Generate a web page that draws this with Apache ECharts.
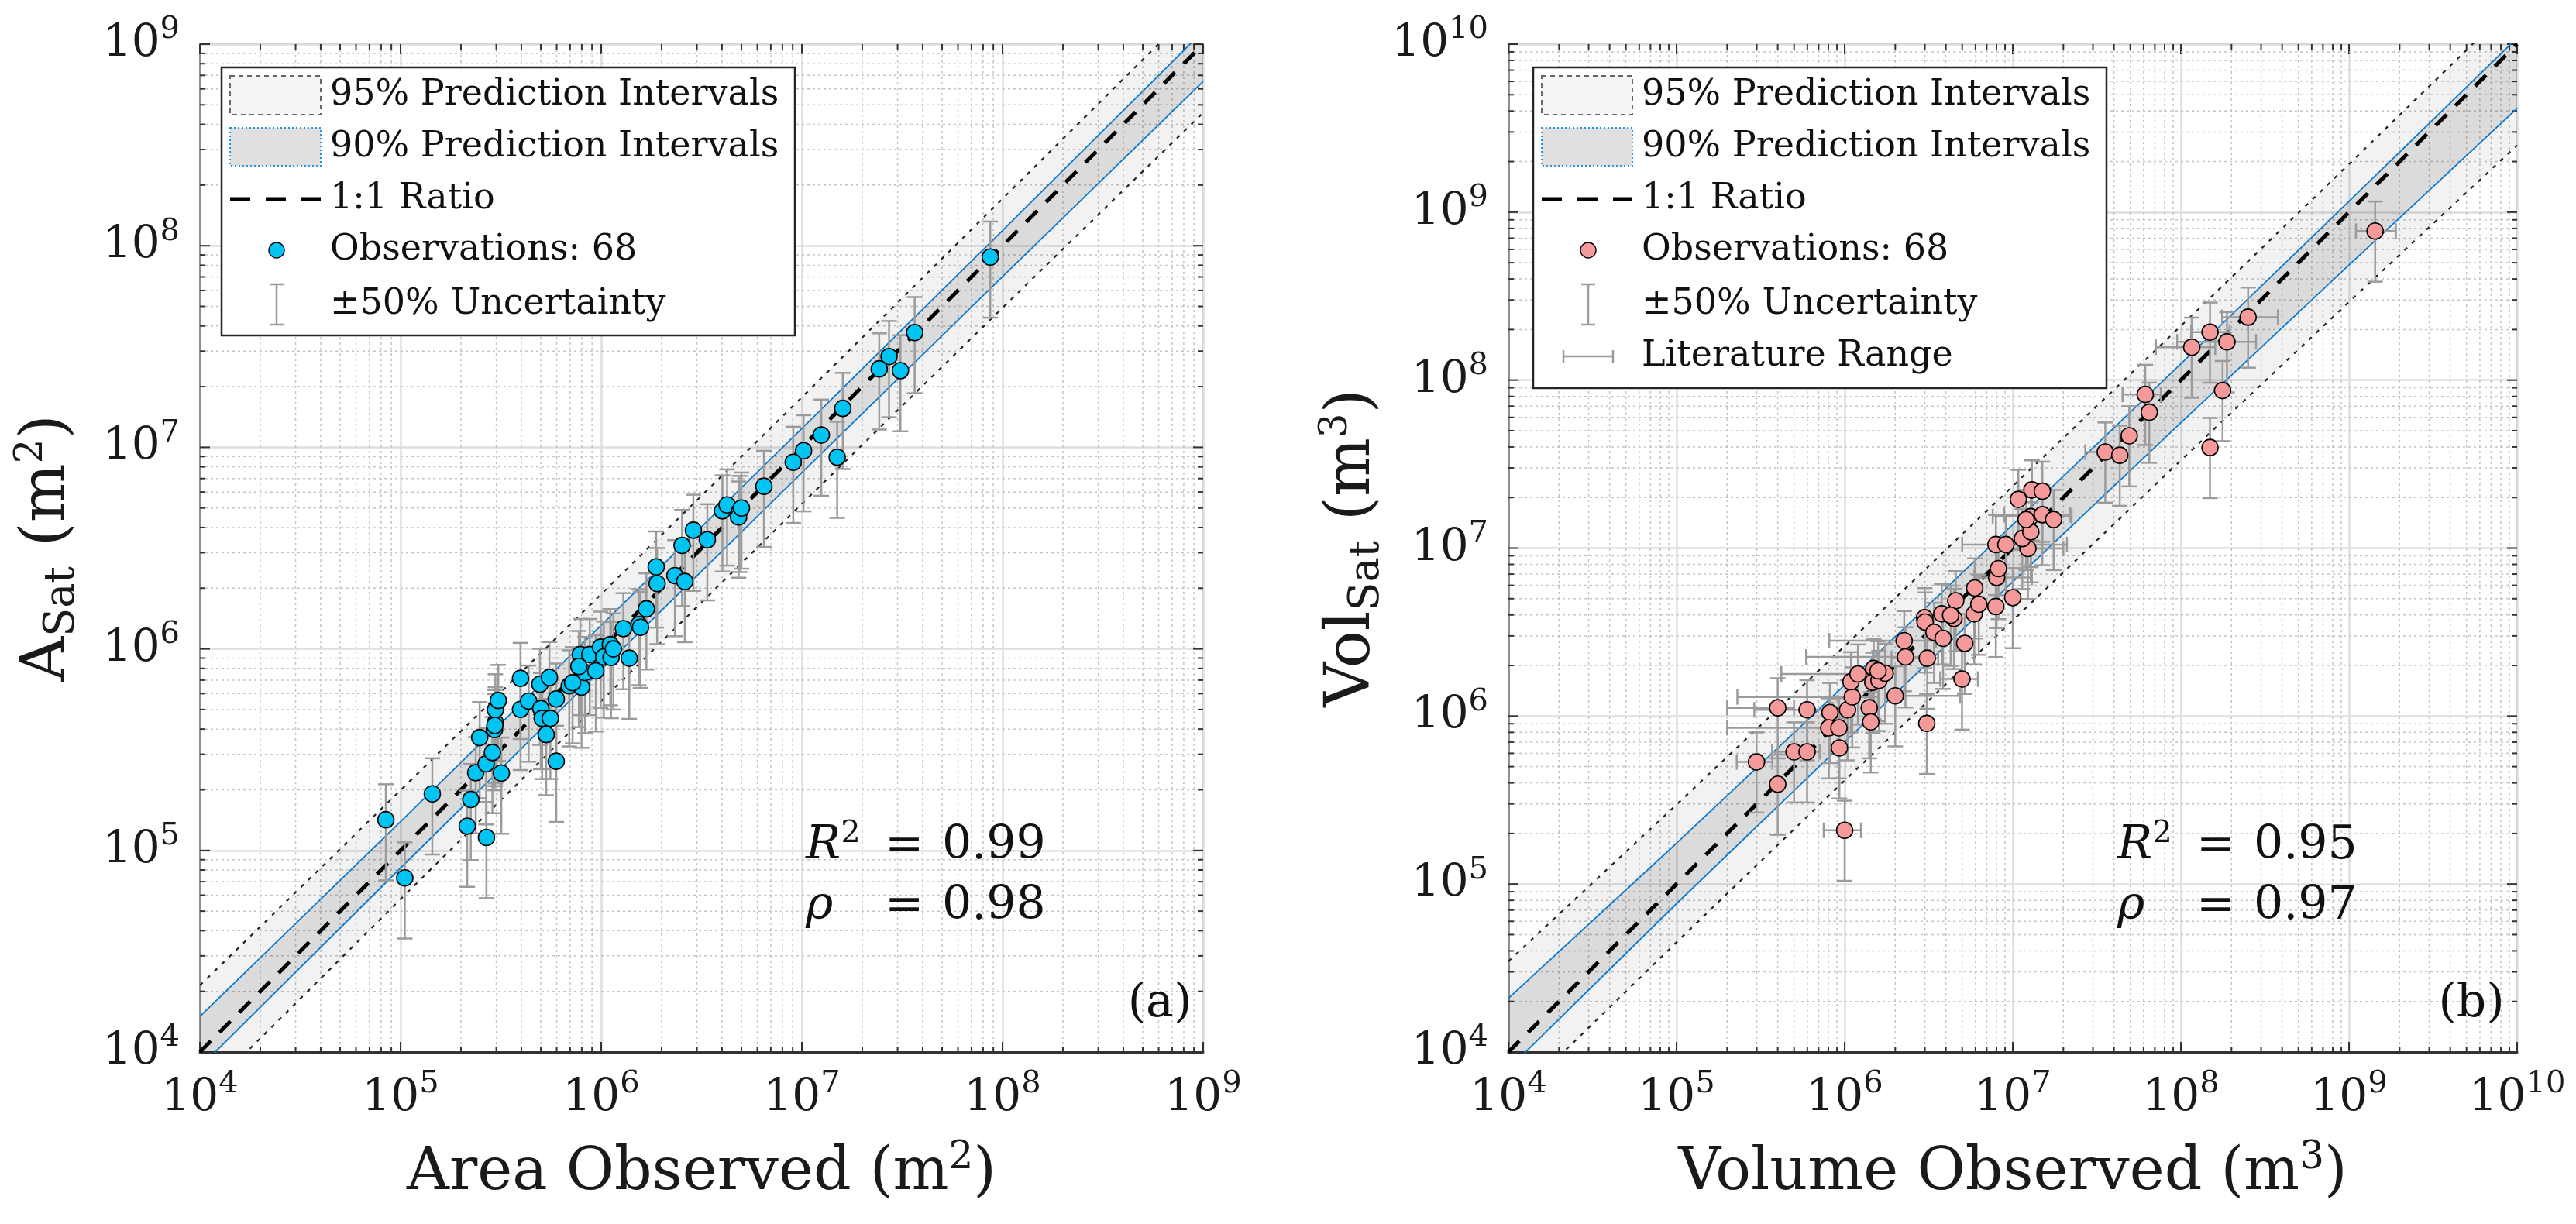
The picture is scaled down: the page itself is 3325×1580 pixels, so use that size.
<!DOCTYPE html>
<html lang="en">
<head>
<meta charset="UTF-8" />
<title>Satellite vs observed</title>
<script src="https://cdn.jsdelivr.net/npm/echarts@6/dist/echarts.min.js"></script>
<style>
  html, body { margin: 0; padding: 0; background: #fff; }
  #main { width: 3325px; height: 1580px; }
</style>
</head>
<body>
<div id="main"></div>
<script type="text/javascript">
// (a) lake area, observed vs satellite (m^2)
var areaObs = [
  8.45e4, 1.05e5, 1.44e5, 2.15e5, 2.24e5, 2.68e5, 2.37e5, 2.67e5, 3.18e5, 2.87e5,
  2.48e5, 2.94e5, 2.97e5, 2.97e5, 3.07e5, 3.96e5, 3.96e5, 4.35e5, 4.95e5, 5.52e5,
  5.00e5, 5.08e5, 5.58e5, 5.32e5, 5.97e5, 5.97e5, 6.93e5, 7.98e5, 7.87e5, 8.30e5,
  9.40e5, 8.77e5, 9.93e5, 1.11e6, 1.03e6, 1.12e6, 1.38e6, 1.29e6, 1.54e6, 1.57e6,
  1.68e6, 1.88e6, 1.90e6, 2.33e6, 2.61e6, 2.53e6, 2.88e6, 3.38e6, 4.02e6, 4.24e6,
  8.69e7, 3.65e7, 2.72e7, 2.43e7, 3.10e7, 1.60e7, 1.25e7, 1.50e7, 1.02e7, 9.06e6,
  6.47e6, 4.89e6, 4.84e6, 7.74e5, 2.95e5, 1.15e6, 5.00e6, 7.20e5
];
var areaSat = [
  1.42e5, 7.31e4, 1.91e5, 1.32e5, 1.79e5, 1.16e5, 2.43e5, 2.69e5, 2.42e5, 3.06e5,
  3.63e5, 3.98e5, 4.30e5, 4.99e5, 5.55e5, 7.14e5, 5.01e5, 5.51e5, 6.68e5, 7.21e5,
  5.06e5, 4.52e5, 4.52e5, 3.76e5, 2.77e5, 5.64e5, 6.56e5, 6.46e5, 9.38e5, 7.64e5,
  7.78e5, 9.38e5, 1.02e6, 1.05e6, 9.12e5, 9.06e5, 8.99e5, 1.26e6, 1.32e6, 1.28e6,
  1.58e6, 2.55e6, 2.11e6, 2.31e6, 2.16e6, 3.26e6, 3.88e6, 3.48e6, 4.84e6, 5.18e6,
  8.79e7, 3.71e7, 2.82e7, 2.45e7, 2.40e7, 1.56e7, 1.15e7, 8.93e6, 9.62e6, 8.43e6,
  6.41e6, 4.81e6, 4.51e6, 8.18e5, 4.17e5, 1.00e6, 5.00e6, 6.80e5
];

// (b) lake volume, observed vs satellite (m^3)
var volObs = [
  2.99e5, 4.00e5, 4.00e5, 5.00e5, 5.98e5, 5.98e5, 9.31e5, 1.00e6, 8.18e5, 8.05e5,
  9.25e5, 1.04e6, 1.11e6, 1.09e6, 1.20e6, 1.40e6, 1.43e6, 1.49e6, 1.47e6, 1.60e6,
  1.74e6, 2.00e6, 2.26e6, 2.30e6, 3.08e6, 3.10e6, 2.99e6, 3.01e6, 3.40e6, 3.85e6,
  3.78e6, 4.47e6, 4.58e6, 5.18e6, 4.99e6, 5.94e6, 5.90e6, 6.28e6, 7.93e6, 1.00e7,
  8.02e6, 8.22e6, 7.94e6, 1.23e7, 1.14e7, 1.28e7, 1.28e7, 1.50e7, 1.75e7, 1.08e7,
  1.30e7, 1.50e7, 1.43e9, 2.51e8, 1.49e8, 1.88e8, 1.16e8, 1.77e8, 1.49e8, 6.14e7,
  6.49e7, 4.93e7, 3.55e7, 4.33e7, 4.27e6, 1.58e6, 9.10e6, 1.20e7
];
var volSat = [
  5.33e5, 3.93e5, 1.12e6, 6.12e5, 6.12e5, 1.09e6, 6.46e5, 2.09e5, 1.05e6, 8.51e5,
  8.51e5, 1.09e6, 1.30e6, 1.60e6, 1.78e6, 1.12e6, 9.23e5, 1.92e6, 1.59e6, 1.63e6,
  1.80e6, 1.32e6, 2.81e6, 2.25e6, 9.04e5, 2.21e6, 3.85e6, 3.63e6, 3.15e6, 2.90e6,
  4.06e6, 3.81e6, 4.86e6, 2.71e6, 1.66e6, 5.79e6, 4.06e6, 4.63e6, 4.49e6, 5.07e6,
  6.68e6, 7.55e6, 1.05e7, 9.95e6, 1.14e7, 1.25e7, 1.54e7, 1.58e7, 1.48e7, 1.95e7,
  2.22e7, 2.18e7, 7.71e8, 2.37e8, 1.93e8, 1.69e8, 1.57e8, 8.67e7, 3.97e7, 8.22e7,
  6.44e7, 4.66e7, 3.73e7, 3.57e7, 3.98e6, 1.86e6, 1.05e7, 1.48e7
];
// literature range of the observed volume (null = none shown)
var volLitLo = [
  2.28e5, null, 2.00e5, 3.70e5, null, 2.90e5, null, 7.50e5, null, 2.00e5,
  null, null, 2.30e5, null, 4.20e5, null, null, null, null, null,
  null, 1.98e6, 8.10e5, 5.90e5, null, 1.90e6, null, null, null, null,
  null, null, null, null, 3.70e6, null, null, null, null, null,
  5.90e6, null, 5.00e6, 7.90e6, null, null, 7.60e6, 8.90e6, null, null,
  null, null, 1.10e9, 1.76e8, 1.15e8, 9.50e7, 7.10e7, null, null, 4.50e7,
  null, null, 2.70e7, null, null, null, null, null
];
var volLitHi = [
  3.72e5, null, 5.00e5, 7.10e5, null, 8.50e5, null, 1.25e6, null, 1.10e6,
  null, null, 1.60e6, null, 2.00e6, null, null, null, null, null,
  null, 4.85e6, 3.50e6, 3.20e6, null, 3.60e6, null, null, null, null,
  null, null, null, null, 6.20e6, null, null, null, null, null,
  1.30e7, null, 2.10e7, 2.00e7, null, null, 2.24e7, 2.20e7, null, null,
  null, null, 1.90e9, 3.78e8, 1.95e8, 2.80e8, 1.60e8, null, null, 7.60e7,
  null, null, 4.30e7, null, null, null, null, null
];

// prediction interval edges read at each decade
var bandXA = [1e4, 1e5, 1e6, 1e7, 1e8, 1e9];
var areaUp95 = [2.14e4, 1.99e5, 1.87e6, 1.77e7, 1.71e8, 1.66e9];
var areaLo95 = [5.89e3, 5.73e4, 5.51e5, 5.24e6, 4.92e7, 4.57e8];
var areaUp90 = [1.50e4, 1.39e5, 1.31e6, 1.24e7, 1.19e8, 1.16e9];
var areaLo90 = [8.41e3, 8.18e4, 7.87e5, 7.48e6, 7.03e7, 6.53e8];

var bandXB = [1e4, 1e5, 1e6, 1e7, 1e8, 1e9, 1e10];
var volUp95 = [3.47e4, 2.97e5, 2.61e6, 2.34e7, 2.10e8, 1.93e9, 1.81e10];
var volLo95 = [4.79e3, 4.50e4, 4.13e5, 3.71e6, 3.33e7, 2.92e8, 2.50e9];
var volUp90 = [2.09e4, 1.75e5, 1.53e6, 1.38e7, 1.25e8, 1.16e9, 1.09e10];
var volLo90 = [7.94e3, 7.64e4, 7.01e5, 6.30e6, 5.58e7, 4.84e8, 4.15e9];

var decadesA = [4, 5, 6, 7, 8, 9];
var decadesB = [4, 5, 6, 7, 8, 9, 10];
var minorSteps = [2, 3, 4, 5, 6, 7, 8, 9];

var statsA = ['0.99', '0.98'];
var statsB = ['0.95', '0.97'];

var FONT = 'DejaVu Serif';
var CYAN = '#00c4f2';
var PINK = '#f59a9a';
var GREY = '#9b9b9b';

var chart = echarts.init(document.getElementById('main'));

function tickData(decades, horizontal) {
  var out = [];
  var lo = Math.pow(10, decades[0]);
  decades.forEach(function (d, i) {
    var v = Math.pow(10, d);
    out.push(horizontal ? [v, lo, 1] : [lo, v, 1]);
    if (i < decades.length - 1) {
      minorSteps.forEach(function (m) {
        out.push(horizontal ? [m * v, lo, 0] : [lo, m * v, 0]);
      });
    }
  });
  return out;
}

var tickStyle = { stroke: '#333', lineWidth: 2 };
var minorGrid = { stroke: '#c4c4c4', lineWidth: 1.5, lineDash: [3, 4] };

function xTicks(params, api) {
  var cs = params.coordSys;
  var px = api.coord([api.value(0), api.value(1)])[0];
  var len = api.value(2) ? 13 : 7;
  var top = cs.y, bot = cs.y + cs.height;
  var kids = [
    { type: 'line', shape: { x1: px, y1: bot, x2: px, y2: bot - len }, style: tickStyle },
    { type: 'line', shape: { x1: px, y1: top, x2: px, y2: top + len }, style: tickStyle }
  ];
  if (!api.value(2)) {
    kids.unshift({ type: 'line', shape: { x1: px, y1: top, x2: px, y2: bot }, style: minorGrid });
  }
  return { type: 'group', children: kids };
}

function yTicks(params, api) {
  var cs = params.coordSys;
  var py = api.coord([api.value(0), api.value(1)])[1];
  var len = api.value(2) ? 13 : 7;
  var l = cs.x, r = cs.x + cs.width;
  var kids = [
    { type: 'line', shape: { x1: l, y1: py, x2: l + len, y2: py }, style: tickStyle },
    { type: 'line', shape: { x1: r, y1: py, x2: r - len, y2: py }, style: tickStyle }
  ];
  if (!api.value(2)) {
    kids.unshift({ type: 'line', shape: { x1: l, y1: py, x2: r, y2: py }, style: minorGrid });
  }
  return { type: 'group', children: kids };
}

function bandRender(xs, lo, hi, fill) {
  return function (params, api) {
    var pts = [];
    for (var i = 0; i < xs.length; i++) pts.push(api.coord([xs[i], hi[i]]));
    for (var j = xs.length - 1; j >= 0; j--) pts.push(api.coord([xs[j], lo[j]]));
    return { type: 'polygon', shape: { points: pts }, style: { fill: fill } };
  };
}

var errStyle = { stroke: GREY, lineWidth: 2.5 };

function vErr(params, api) {
  var x = api.value(0);
  var a = api.coord([x, api.value(1)]);
  var b = api.coord([x, api.value(2)]);
  var c = 10;
  return {
    type: 'group',
    children: [
      { type: 'line', shape: { x1: a[0], y1: a[1], x2: b[0], y2: b[1] }, style: errStyle },
      { type: 'line', shape: { x1: a[0] - c, y1: a[1], x2: a[0] + c, y2: a[1] }, style: errStyle },
      { type: 'line', shape: { x1: b[0] - c, y1: b[1], x2: b[0] + c, y2: b[1] }, style: errStyle }
    ]
  };
}

function hErr(params, api) {
  var y = api.value(1);
  var a = api.coord([api.value(2), y]);
  var b = api.coord([api.value(3), y]);
  var c = 10;
  return {
    type: 'group',
    children: [
      { type: 'line', shape: { x1: a[0], y1: a[1], x2: b[0], y2: b[1] }, style: errStyle },
      { type: 'line', shape: { x1: a[0], y1: a[1] - c, x2: a[0], y2: a[1] + c }, style: errStyle },
      { type: 'line', shape: { x1: b[0], y1: b[1] - c, x2: b[0], y2: b[1] + c }, style: errStyle }
    ]
  };
}

function pairs(xs, ys) {
  return xs.map(function (x, i) { return [x, ys[i]]; });
}

function vErrData(xs, ys) {
  return xs.map(function (x, i) { return [x, ys[i] * 0.5, ys[i] * 1.5]; });
}

function hErrData(xs, ys, lo, hi) {
  var out = [];
  xs.forEach(function (x, i) {
    if (lo[i] != null) out.push([x, ys[i], lo[i], hi[i]]);
  });
  return out;
}

function powLabel(v) {
  var e = Math.round(Math.log10(v));
  return '{b|10}{e|' + e + '}';
}

var labelRich = {
  b: { fontSize: 58, fontFamily: FONT, color: '#1a1a1a', lineHeight: 76 },
  e: { fontSize: 40, fontFamily: FONT, color: '#1a1a1a', lineHeight: 40, verticalAlign: 'top' }
};

function xAxisOpt(idx, maxExp, name) {
  return {
    gridIndex: idx,
    type: 'log',
    logBase: 10,
    min: 1e4,
    max: Math.pow(10, maxExp),
    interval: 1,
    axisLine: { show: true, onZero: false, lineStyle: { color: '#333', width: 3 } },
    axisTick: { show: false },
    minorTick: { show: false },
    splitLine: { show: true, lineStyle: { color: '#dedede', width: 2.5 } },
    axisLabel: { formatter: powLabel, margin: 22, rich: labelRich },
    name: name,
    nameLocation: 'middle',
    nameGap: 112,
    nameTextStyle: {
      fontSize: 76, fontFamily: FONT, color: '#1a1a1a', lineHeight: 90,
      rich: { s: { fontSize: 50, fontFamily: FONT, color: '#1a1a1a', lineHeight: 44, verticalAlign: 'top' } }
    }
  };
}

function yAxisOpt(idx, maxExp, name) {
  return {
    gridIndex: idx,
    type: 'log',
    logBase: 10,
    min: 1e4,
    max: Math.pow(10, maxExp),
    interval: 1,
    axisLine: { show: true, onZero: false, lineStyle: { color: '#8f8f8f', width: 3 } },
    axisTick: { show: false },
    minorTick: { show: false },
    splitLine: { show: true, lineStyle: { color: '#dedede', width: 2.5 } },
    axisLabel: { formatter: powLabel, margin: 26, rich: labelRich },
    name: name,
    nameLocation: 'middle',
    nameRotate: 90,
    nameGap: 150,
    nameTextStyle: {
      fontSize: 80, fontFamily: FONT, color: '#1a1a1a', lineHeight: 92,
      rich: {
        sub: { fontSize: 54, fontFamily: FONT, color: '#1a1a1a', lineHeight: 50, verticalAlign: 'bottom' },
        s: { fontSize: 50, fontFamily: FONT, color: '#1a1a1a', lineHeight: 44, verticalAlign: 'top' }
      }
    }
  };
}

function panelSeries(idx, decades, xs, ys, bx, up95, lo95, up90, lo90, color, lo, hi) {
  var list = [
    { type: 'custom', xAxisIndex: idx, yAxisIndex: idx, z: 1, silent: true,
      renderItem: xTicks, data: tickData(decades, true) },
    { type: 'custom', xAxisIndex: idx, yAxisIndex: idx, z: 1, silent: true,
      renderItem: yTicks, data: tickData(decades, false) },
    { type: 'custom', xAxisIndex: idx, yAxisIndex: idx, z: 2, silent: true, clip: true,
      renderItem: bandRender(bx, lo95, up95, 'rgba(0,0,0,0.05)'), data: [[bx[0], bx[0]]] },
    { type: 'custom', xAxisIndex: idx, yAxisIndex: idx, z: 2, silent: true, clip: true,
      renderItem: bandRender(bx, lo90, up90, 'rgba(0,0,0,0.095)'), data: [[bx[0], bx[0]]] }
  ];
  [[up95, 'dot'], [lo95, 'dot'], [up90, 'blue'], [lo90, 'blue']].forEach(function (b) {
    list.push({
      type: 'line', xAxisIndex: idx, yAxisIndex: idx, z: 3, silent: true,
      showSymbol: false, symbol: 'none', clip: true,
      data: pairs(bx, b[0]),
      lineStyle: b[1] === 'dot'
        ? { color: '#222', width: 2.2, type: [5, 8] }
        : { color: '#0a78cc', width: 1.8, type: 'solid' }
    });
  });
  list.push({
    type: 'line', xAxisIndex: idx, yAxisIndex: idx, z: 4, silent: true,
    showSymbol: false, symbol: 'none', clip: true,
    data: [[bx[0], bx[0]], [bx[bx.length - 1], bx[bx.length - 1]]],
    lineStyle: { color: '#000', width: 5, type: [20, 16] }
  });
  list.push({
    type: 'custom', xAxisIndex: idx, yAxisIndex: idx, z: 5, silent: true,
    renderItem: vErr, encode: { x: 0, y: [1, 2] }, data: vErrData(xs, ys)
  });
  if (lo) {
    list.push({
      type: 'custom', xAxisIndex: idx, yAxisIndex: idx, z: 5, silent: true,
      renderItem: hErr, encode: { x: [2, 3], y: 1 }, data: hErrData(xs, ys, lo, hi)
    });
  }
  list.push({
    type: 'scatter', xAxisIndex: idx, yAxisIndex: idx, z: 6,
    symbol: 'circle', symbolSize: 21,
    itemStyle: { color: color, borderColor: '#000', borderWidth: 1.6, opacity: 1 },
    data: pairs(xs, ys)
  });
  return list;
}

function txt(x, y, text, size, extra) {
  var st = {
    x: x, y: y, text: text, fill: '#111',
    fontSize: size, fontFamily: FONT,
    align: 'left', verticalAlign: 'middle',
    textAlign: 'left', textVerticalAlign: 'middle'
  };
  if (extra) for (var k in extra) st[k] = extra[k];
  return { type: 'text', z: 100, style: st };
}

function legend(x0, y0, w, h, markColor, withLit) {
  var kids = [];
  kids.push({ type: 'rect', z: 99, shape: { x: x0, y: y0, width: w, height: h },
    style: { fill: '#fff', stroke: '#262626', lineWidth: 2.5 } });
  var rows = [36, 103, 170, 236, 306, 373];
  var px = x0 + 11, pw = 117, mx = x0 + 71, tx = x0 + 140;
  kids.push({ type: 'rect', z: 100, shape: { x: px, y: y0 + rows[0] - 25, width: pw, height: 50 },
    style: { fill: '#f4f4f4', stroke: '#666', lineWidth: 2, lineDash: [6, 5] } });
  kids.push({ type: 'rect', z: 100, shape: { x: px, y: y0 + rows[1] - 25, width: pw, height: 49 },
    style: { fill: '#e0e0e0', stroke: '#2a94dc', lineWidth: 2, lineDash: [2, 3] } });
  kids.push({ type: 'line', z: 100, shape: { x1: px, y1: y0 + rows[2], x2: px + pw, y2: y0 + rows[2] },
    style: { stroke: '#000', lineWidth: 5, lineDash: [26, 20] } });
  kids.push({ type: 'circle', z: 100, shape: { cx: mx, cy: y0 + rows[3], r: 10 },
    style: { fill: markColor, stroke: '#000', lineWidth: 1.4 } });
  var ey = y0 + rows[4];
  kids.push({ type: 'line', z: 100, shape: { x1: mx, y1: ey - 26, x2: mx, y2: ey + 26 }, style: errStyle });
  kids.push({ type: 'line', z: 100, shape: { x1: mx - 9, y1: ey - 26, x2: mx + 9, y2: ey - 26 }, style: errStyle });
  kids.push({ type: 'line', z: 100, shape: { x1: mx - 9, y1: ey + 26, x2: mx + 9, y2: ey + 26 }, style: errStyle });
  var labels = ['95% Prediction Intervals', '90% Prediction Intervals', '1:1 Ratio',
    'Observations: 68', '\u00b150% Uncertainty'];
  if (withLit) {
    var ly = y0 + rows[5];
    kids.push({ type: 'line', z: 100, shape: { x1: mx - 32, y1: ly, x2: mx + 32, y2: ly }, style: errStyle });
    kids.push({ type: 'line', z: 100, shape: { x1: mx - 32, y1: ly - 8, x2: mx - 32, y2: ly + 8 }, style: errStyle });
    kids.push({ type: 'line', z: 100, shape: { x1: mx + 32, y1: ly - 8, x2: mx + 32, y2: ly + 8 }, style: errStyle });
    labels.push('Literature Range');
  }
  labels.forEach(function (t, i) { kids.push(txt(tx, y0 + rows[i], t, 46)); });
  return kids;
}

function stats(x0, vals, tag, tagX) {
  var rich = {
    i: { fontSize: 60, fontFamily: FONT, fontStyle: 'italic', lineHeight: 70 },
    s: { fontSize: 40, fontFamily: FONT, lineHeight: 36, verticalAlign: 'top' }
  };
  return [
    txt(x0, 1092, '{i|R}{s|2}', 60, { rich: rich }),
    txt(x0 + 102, 1092, '=', 60),
    txt(x0 + 176, 1092, vals[0], 60),
    txt(x0, 1170, '{i|\u03c1}', 60, { rich: rich }),
    txt(x0 + 102, 1170, '=', 60),
    txt(x0 + 176, 1170, vals[1], 60),
    txt(tagX, 1296, tag, 60, { align: 'center', textAlign: 'center' })
  ];
}

var option = {
  animation: false,
  backgroundColor: '#fff',
  textStyle: { fontFamily: FONT },
  grid: [
    { left: 258, top: 57, width: 1295, height: 1301, show: true, borderColor: '#b8b8b8', borderWidth: 2, backgroundColor: 'transparent' },
    { left: 1947, top: 57, width: 1302, height: 1301, show: true, borderColor: '#b8b8b8', borderWidth: 2, backgroundColor: 'transparent' }
  ],
  xAxis: [
    xAxisOpt(0, 9, 'Area Observed (m{s|2})'),
    xAxisOpt(1, 10, 'Volume Observed (m{s|3})')
  ],
  yAxis: [
    yAxisOpt(0, 9, 'A{sub|Sat} (m{s|2})'),
    yAxisOpt(1, 10, 'Vol{sub|Sat} (m{s|3})')
  ],
  series: [].concat(
    panelSeries(0, decadesA, areaObs, areaSat, bandXA, areaUp95, areaLo95, areaUp90, areaLo90, CYAN),
    panelSeries(1, decadesB, volObs, volSat, bandXB, volUp95, volLo95, volUp90, volLo90, PINK, volLitLo, volLitHi)
  ),
  graphic: [].concat(
    legend(286, 87, 740, 346, CYAN, false),
    legend(1979, 87, 740, 414, PINK, true),
    stats(1040, statsA, '(a)', 1497),
    stats(2733, statsB, '(b)', 3190)
  )
};

chart.setOption(option);
</script>
</body>
</html>
